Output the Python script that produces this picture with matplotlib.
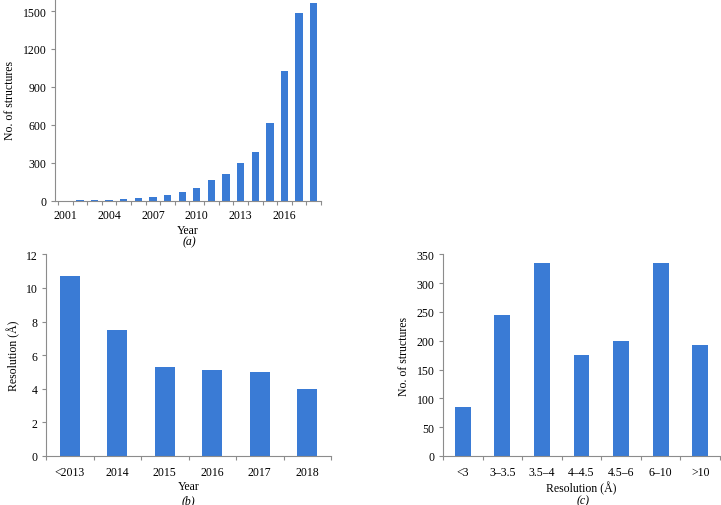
import matplotlib
matplotlib.use("Agg")
import matplotlib.pyplot as plt
import numpy as np

plt.rcParams['font.family'] = ['Liberation Serif', 'DejaVu Serif']
plt.rcParams['font.size'] = 8.5

# Panel (a)
years_a = [str(y) for y in range(2001, 2019)]
counts_a = [0, 1, 3, 6, 10, 20, 30, 45, 70, 100, 165, 210, 300, 385, 610, 1025, 1485, 1565]
yticks_a = [0, 300, 600, 900, 1200, 1500]

# Panel (b)
years_b = ['<2013', '2014', '2015', '2016', '2017', '2018']
res_b = [10.7, 7.5, 5.3, 5.1, 5.0, 4.0]
yticks_b = [0, 2, 4, 6, 8, 10, 12]

# Panel (c)
bins_c = ['<3', '3\u20133.5', '3.5\u20134', '4\u20134.5', '4.5\u20136', '6\u201310', '>10']
counts_c = [85, 245, 335, 175, 200, 335, 193]
yticks_c = [0, 50, 100, 150, 200, 250, 300, 350]

W, H = 721, 506
BAR = '#3a7bd5'
SPINE = '#8c8c8c'
FS = 8.5

fig = plt.figure(figsize=(W / 100, H / 100), dpi=100)


def px_axes(l, t, r, b):
    return fig.add_axes([l / W, 1 - b / H, (r - l) / W, (b - t) / H])


def style(ax, n, labels, label_every=1, pad=7):
    for s in ['top', 'right']:
        ax.spines[s].set_visible(False)
    for s in ['left', 'bottom']:
        ax.spines[s].set_color(SPINE)
        ax.spines[s].set_linewidth(0.8)
    ax.set_xlim(-0.5, n - 0.5)
    ax.set_xticks(np.arange(n + 1) - 0.5)
    ax.set_xticklabels([])
    ax.set_xticks(np.arange(n)[::label_every], minor=True)
    ax.set_xticklabels(labels[::label_every], minor=True)
    ax.tick_params(axis='x', which='major', length=3, color=SPINE, width=0.8)
    ax.tick_params(axis='x', which='minor', length=0, pad=pad, labelsize=FS)
    ax.tick_params(axis='y', length=3, color=SPINE, width=0.8, labelsize=FS, pad=3)


# (a)
ax1 = px_axes(55, 0, 321, 201.5)
x = np.arange(len(years_a))
ax1.bar(x, counts_a, width=0.5, color=BAR)
style(ax1, len(years_a), years_a, label_every=3, pad=6)
ax1.set_xlim(-0.7, len(years_a) - 0.5)
ax1.set_ylim(0, 1595)
ax1.set_yticks(yticks_a)
ax1.set_ylabel('No. of structures', fontsize=FS, labelpad=5)
ax1.set_xlabel('Year', fontsize=FS, labelpad=2)
fig.text(189 / W, 1 - 242 / H, '(a)', ha='center', va='center', fontsize=FS, style='italic')

# (b)
ax2 = px_axes(46, 255.3, 331, 457)
x = np.arange(len(years_b))
ax2.bar(x, res_b, width=0.42, color=BAR)
style(ax2, len(years_b), years_b)
ax2.set_ylim(0, 12)
ax2.set_yticks(yticks_b)
ax2.set_ylabel('Resolution (\u00c5)', fontsize=FS, labelpad=4)
ax2.set_xlabel('Year', fontsize=FS, labelpad=2)
fig.text(188 / W, 1 - 501 / H, '(b)', ha='center', va='center', fontsize=FS, style='italic')

# (c)
ax3 = px_axes(443, 255.3, 720, 457)
x = np.arange(len(bins_c))
ax3.bar(x, counts_c, width=0.4, color=BAR)
style(ax3, len(bins_c), bins_c)
ax3.set_ylim(0, 350)
ax3.set_yticks(yticks_c)
ax3.set_ylabel('No. of structures', fontsize=FS, labelpad=5)
ax3.set_xlabel('Resolution (\u00c5)', fontsize=FS, labelpad=2)
fig.text(583 / W, 1 - 501 / H, '(c)', ha='center', va='center', fontsize=FS, style='italic')

fig.savefig('out.png', dpi=100)
